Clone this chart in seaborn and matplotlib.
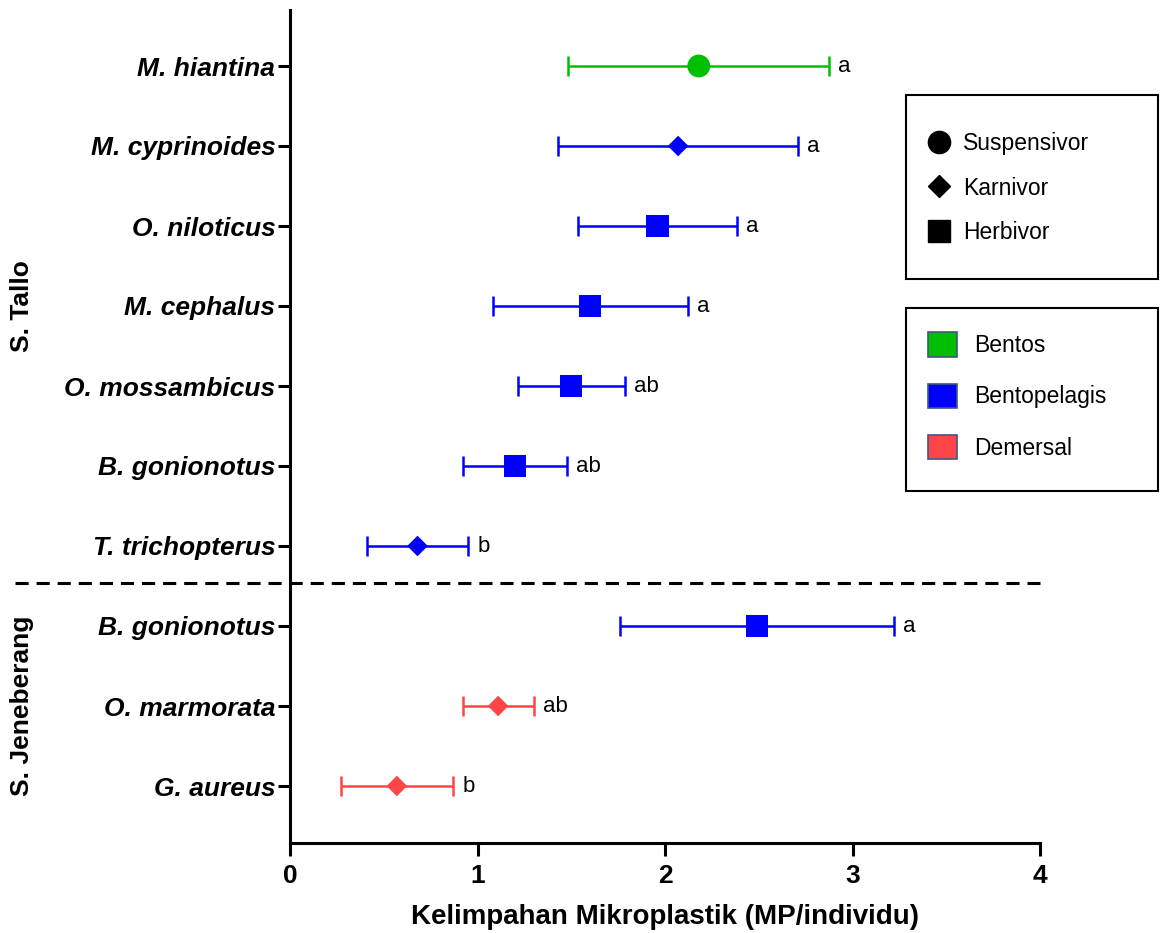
import numpy as np
import pandas as pd
import matplotlib
matplotlib.use("Agg")
import matplotlib.pyplot as plt
import matplotlib.transforms as mtransforms
from matplotlib.lines import Line2D
from matplotlib.patches import Patch, Rectangle
import seaborn as sns

# data
species = ["M. hiantina", "M. cyprinoides", "O. niloticus", "M. cephalus",
           "O. mossambicus", "B. gonionotus", "T. trichopterus",
           "B. gonionotus", "O. marmorata", "G. aureus"]
mean_mp = [2.18, 2.07, 1.96, 1.60, 1.50, 1.20, 0.68, 2.49, 1.11, 0.57]
sd_mp = [0.695, 0.64, 0.425, 0.52, 0.285, 0.275, 0.27, 0.73, 0.19, 0.30]
habitat = ["Bentos"] + ["Bentopelagis"] * 7 + ["Demersal"] * 2
feeding = ["Suspensivor", "Karnivor", "Herbivor", "Herbivor", "Herbivor",
           "Herbivor", "Karnivor", "Herbivor", "Karnivor", "Karnivor"]
letters = ["a", "a", "a", "a", "ab", "ab", "b", "a", "ab", "b"]
river = ["S. Tallo"] * 7 + ["S. Jeneberang"] * 3

habitat_colors = {"Bentos": "#00BF00", "Bentopelagis": "#0000FF", "Demersal": "#FF4545"}
feeding_markers = {"Suspensivor": "o", "Karnivor": "D", "Herbivor": "s"}
feeding_sizes = {"Suspensivor": 270, "Karnivor": 110, "Herbivor": 260}

df = pd.DataFrame({
    "species": species, "mean": mean_mp, "sd": sd_mp,
    "habitat": habitat, "feeding": feeding, "letter": letters, "river": river,
})
df["pos"] = np.arange(len(df))

sns.set_style("ticks")
plt.rcParams["font.family"] = ["Liberation Sans", "DejaVu Sans"]
plt.rcParams.update({
    "text.color": "black", "axes.labelcolor": "black", "axes.edgecolor": "black",
    "xtick.color": "black", "ytick.color": "black",
})

fig = plt.figure(figsize=(11.6, 9.33), dpi=100)
ax = fig.add_axes([0.25, 1 - 843 / 933, 750 / 1160, 833 / 933])

# error bars first, markers on top
for hab, sub in df.groupby("habitat"):
    ax.errorbar(sub["mean"], sub["pos"], xerr=sub["sd"], fmt="none",
                ecolor=habitat_colors[hab], elinewidth=1.8, capsize=7.5,
                capthick=1.8, zorder=2)

sns.scatterplot(data=df, x="mean", y="pos", hue="habitat", style="feeding",
                size="feeding", sizes=feeding_sizes, palette=habitat_colors,
                markers=feeding_markers, linewidth=0, legend=False, ax=ax,
                zorder=3)

for _, r in df.iterrows():
    ax.annotate(r["letter"], (r["mean"] + r["sd"], r["pos"]),
                xytext=(6.5, 0), textcoords="offset points",
                ha="left", va="center", fontsize=16)

ax.set_xlim(0, 4)
ax.set_ylim(9.7125, -0.7)
ax.set_xticks([0, 1, 2, 3, 4])
ax.set_yticks(df["pos"])
ax.set_yticklabels(df["species"], fontsize=19, fontweight="bold", fontstyle="italic")
for lab in ax.get_xticklabels():
    lab.set_fontsize(19)
    lab.set_fontweight("bold")
ax.set_xlabel("Kelimpahan Mikroplastik (MP/individu)", fontsize=20,
              fontweight="bold", labelpad=12)
ax.set_ylabel("")

sns.despine(ax=ax)
for side in ["left", "bottom"]:
    ax.spines[side].set_linewidth(2.2)
ax.tick_params(axis="y", length=8.6, width=2.2, pad=2, colors="black")
ax.tick_params(axis="x", length=9, width=2.2, pad=6, colors="black")

# dashed separator between the two rivers
sep = ax.plot([-1.467, 4], [6.46, 6.46], color="black", lw=2.2,
              clip_on=False, zorder=1)[0]
sep.set_dashes([4.3, 2.6])

# river group labels
trans = mtransforms.blended_transform_factory(fig.transFigure, ax.transData)
for name, sub in df.groupby("river", sort=False):
    ax.text(22 / 1160, sub["pos"].mean(), name, transform=trans, rotation=90,
            ha="center", va="center", fontsize=19, fontweight="bold")

# legend frames
for y0, y1 in [(95, 279), (308, 491)]:
    fig.patches.append(Rectangle((906 / 1160, 1 - y1 / 933), 252 / 1160,
                                 (y1 - y0) / 933, transform=fig.transFigure,
                                 fill=False, edgecolor="black", lw=1.5))

feed_handles = [
    Line2D([], [], ls="none", marker="o", ms=16, color="black", label="Suspensivor"),
    Line2D([], [], ls="none", marker="D", ms=11, color="black", label="Karnivor"),
    Line2D([], [], ls="none", marker="s", ms=16, color="black", label="Herbivor"),
]
leg1 = fig.legend(handles=feed_handles, loc="center left",
                  bbox_to_anchor=(925 / 1160, 1 - 188 / 933), frameon=False,
                  fontsize=16.5, borderpad=0, borderaxespad=0, handlelength=1.2,
                  handletextpad=0.45, labelspacing=0.95)

hab_handles = [Patch(facecolor=c, edgecolor="#41577f", lw=1.2, label=h)
               for h, c in habitat_colors.items()]
leg2 = fig.legend(handles=hab_handles, loc="center left",
                  bbox_to_anchor=(928 / 1160, 1 - 396 / 933), frameon=False,
                  fontsize=16.5, borderpad=0, borderaxespad=0, handlelength=1.26,
                  handleheight=1.26, handletextpad=0.75, labelspacing=1.15)

fig.savefig("out.png", dpi=100)
